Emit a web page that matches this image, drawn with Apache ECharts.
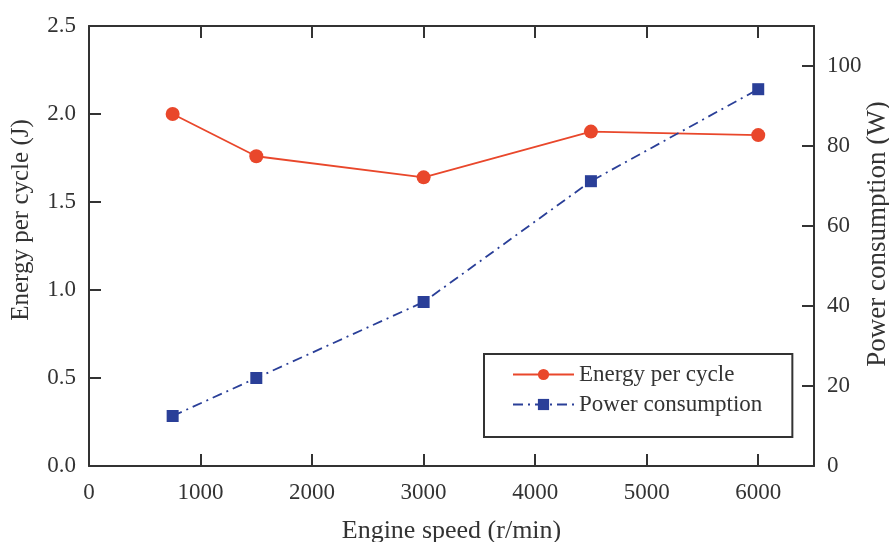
<!DOCTYPE html>
<html>
<head>
<meta charset="utf-8">
<script src="https://cdn.jsdelivr.net/npm/echarts@6/dist/echarts.min.js"></script>
<style>
  html, body { margin: 0; padding: 0; background: #fff; }
  #chart { width: 889px; height: 542px; }
</style>
</head>
<body>
<div id="chart"></div>
<script>
// engine speed (r/min)
const speeds = [750, 1500, 3000, 4500, 6000]
// energy per cycle (J)
const energy = [2.0, 1.76, 1.64, 1.90, 1.88]
// power consumption (W)
const power = [12.5, 22, 41, 71.2, 94.2]

const red = '#e9472b'
const blue = '#2a3f98'
const font = 'Liberation Serif, Times New Roman, serif'

const chart = echarts.init(document.getElementById('chart'))

const axisBase = {
  axisLine: { show: true, onZero: false, lineStyle: { color: '#333', width: 2 } },
  axisTick: { show: true, inside: true, length: 12, lineStyle: { color: '#333', width: 2 } },
  splitLine: { show: false }
}
const tickText = { fontFamily: font, fontSize: 23, color: '#333' }

const option = {
  backgroundColor: '#fff',
  animation: false,
  grid: { left: 89, right: 75, top: 26, bottom: 76, outerBoundsMode: 'none' },
  legend: {
    orient: 'vertical',
    left: 484,
    top: 354,
    padding: [9, 30, 21, 28],
    itemGap: 7,
    itemWidth: 61,
    itemHeight: 14,
    borderColor: '#333',
    borderWidth: 2,
    textStyle: { fontFamily: font, fontSize: 23, color: '#333' },
    data: ['Energy per cycle', 'Power consumption']
  },
  xAxis: [{
    ...axisBase,
    type: 'value',
    min: 0,
    max: 6500,
    interval: 1000,
    name: 'Engine speed (r/min)',
    nameLocation: 'middle',
    nameGap: 52,
    nameTextStyle: { fontFamily: font, fontSize: 26, color: '#333' },
    axisLabel: { ...tickText, margin: 15, showMaxLabel: false, formatter: v => String(v) }
  }, {
    ...axisBase,
    type: 'value',
    position: 'top',
    min: 0,
    max: 6500,
    interval: 1000,
    axisLabel: { show: false }
  }],
  yAxis: [{
    ...axisBase,
    type: 'value',
    min: 0,
    max: 2.5,
    interval: 0.5,
    name: 'Energy per cycle (J)',
    nameLocation: 'middle',
    nameGap: 55,
    nameMoveOverlap: false,
    nameTextStyle: { fontFamily: font, fontSize: 25, color: '#333', padding: [0, 0, 0, 52] },
    axisLabel: { ...tickText, margin: 13, formatter: v => v.toFixed(1) }
  }, {
    ...axisBase,
    type: 'value',
    position: 'right',
    min: 0,
    max: 110,
    interval: 20,
    name: 'Power consumption (W)',
    nameLocation: 'middle',
    nameGap: 50,
    nameMoveOverlap: false,
    nameTextStyle: { fontFamily: font, fontSize: 27, color: '#333', padding: [0, 0, 0, 24] },
    axisLabel: { ...tickText, margin: 13, showMaxLabel: false }
  }],
  series: [{
    name: 'Energy per cycle',
    type: 'line',
    xAxisIndex: 0,
    yAxisIndex: 0,
    data: speeds.map((s, i) => [s, energy[i]]),
    symbol: 'circle',
    symbolSize: 14,
    lineStyle: { color: red, width: 1.8 },
    itemStyle: { color: red }
  }, {
    name: 'Power consumption',
    type: 'line',
    xAxisIndex: 0,
    yAxisIndex: 1,
    data: speeds.map((s, i) => [s, power[i]]),
    symbol: 'rect',
    symbolSize: 12,
    lineStyle: { color: blue, width: 1.8, type: [10, 5, 2, 5] },
    itemStyle: { color: blue }
  }]
}

chart.setOption(option)
</script>
</body>
</html>
